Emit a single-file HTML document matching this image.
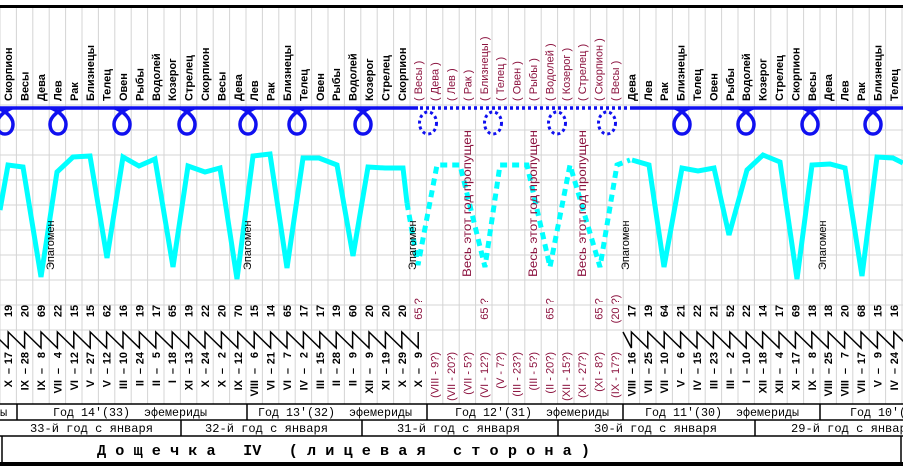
<!DOCTYPE html>
<html><head><meta charset="utf-8"><style>
html,body{margin:0;padding:0;background:#fff;width:903px;height:470px;overflow:hidden}
svg{display:block}
.lb{font:bold 11px "Liberation Sans",sans-serif;fill:#000}
.lr{font:11px "Liberation Sans",sans-serif;fill:#8c1440}
.nb{font:bold 11px "Liberation Sans",sans-serif;fill:#000}
.nr{font:11px "Liberation Sans",sans-serif;fill:#8c1440}
.ep{font:11px "Liberation Sans",sans-serif;fill:#000}
.vs{font:12px "Liberation Sans",sans-serif;fill:#8c1440}
.mo{font:12px "Liberation Mono",monospace;fill:#000;white-space:pre}
.mb{font:bold 15px "Liberation Mono",monospace;fill:#000;white-space:pre}
</style></head><body>
<svg id="s" width="903" height="470" xmlns="http://www.w3.org/2000/svg"></svg>
<script>
const s=document.getElementById('s');let h='';
const c=i=>8.2+16.4*i;
for(let i=0;i<=55;i++){const x=16.4*i;h+=`<line x1="${x}" y1="8" x2="${x}" y2="404" stroke="#d4d4d4" stroke-width="1"/>`;}
for(let y=105;y<=330;y+=25){h+=`<line x1="0" y1="${y}" x2="903" y2="${y}" stroke="#d4d4d4" stroke-width="1"/>`;}
h+=`<rect x="0" y="5" width="903" height="3" fill="#000"/>`;
const L=["Скорпион","Весы","Дева","Лев","Рак","Близнецы","Телец","Овен","Рыбы","Водолей","Козерог","Стрелец","Скорпион","Весы","Дева","Лев","Рак","Близнецы","Телец","Овен","Рыбы","Водолей","Козерог","Стрелец","Скорпион","( Весы )","( Дева )","( Лев )","( Рак )","( Близнецы )","( Телец )","( Овен )","( Рыбы )","( Водолей )","( Козерог )","( Стрелец )","( Скорпион )","( Весы )","Дева","Лев","Рак","Близнецы","Телец","Овен","Рыбы","Водолей","Козерог","Стрелец","Скорпион","Весы","Дева","Лев","Рак","Близнецы","Телец"];
L.forEach((t,i)=>{const r=i>=25&&i<=37;h+=`<text class="${r?'lr':'lb'}" transform="translate(${c(i)+4},101) rotate(-90)">${t}</text>`;});
h+=`<line x1="0" y1="108" x2="418" y2="108" stroke="#1010f0" stroke-width="3.5"/>`;
h+=`<line x1="420" y1="108" x2="628" y2="108" stroke="#1010f0" stroke-width="3.5" stroke-dasharray="3,3"/>`;
h+=`<line x1="630" y1="108" x2="903" y2="108" stroke="#1010f0" stroke-width="3.5"/>`;
[5,58,122,187,248,297,363,682,746,810,873].forEach(x=>{h+=`<path d="M ${x-7},108 C ${x-2},110 ${x+8},116 ${x+8},124 C ${x+8},131 ${x+4},134 ${x},134 C ${x-4},134 ${x-8},131 ${x-8},124 C ${x-8},116 ${x+2},110 ${x+7},108" fill="none" stroke="#1010f0" stroke-width="3.5"/>`;});
[428,493,557,607].forEach(x=>{h+=`<ellipse cx="${x}" cy="123" rx="8.5" ry="11" fill="none" stroke="#1010f0" stroke-width="3" stroke-dasharray="3,3"/>`;});
const P1="0,210 8,165 23,167 41,277 57,172 73,157 90,156 107,258 123,157 139,166 155,159 173,267 188,166 205,172 220,168 237,279 253,156 270,154 287,268 303,158 319,158 337,165 353,256 368,167 385,168 403,168 407,203";
h+=`<polyline points="${P1}" fill="none" stroke="#00ffff" stroke-width="5"/>`;
const P2="407,203 418,265 437,165 460,165 485,267 500,165 527,165 550,267 570,165 600,267 617,165 630,160";
h+=`<polyline points="${P2}" fill="none" stroke="#00ffff" stroke-width="5" stroke-dasharray="7,5"/>`;
const P3="632,160 649,165 664,267 682,168 698,171 714,168 729,235 747,170 763,155 780,162 797,279 812,165 830,164 845,168 862,276 877,157 893,158 903,163";
h+=`<polyline points="${P3}" fill="none" stroke="#00ffff" stroke-width="5"/>`;
[50,247,412,625,822].forEach(x=>{h+=`<text class="ep" transform="translate(${x+4},270) rotate(-90)">Эпагомен</text>`;});
[467,533,582].forEach(x=>{h+=`<text class="vs" transform="translate(${x+4},277) rotate(-90)" textLength="147" lengthAdjust="spacingAndGlyphs">Весь этот год пропущен</text>`;});
const N={0:19,1:20,2:69,3:22,4:15,5:15,6:62,7:16,8:19,9:17,10:65,11:19,12:22,13:20,14:70,15:15,16:14,17:65,18:17,19:17,20:19,21:60,22:20,23:20,24:20,38:17,39:19,40:64,41:21,42:22,43:21,44:52,45:22,46:14,47:17,48:69,49:18,50:18,51:20,52:68,53:15,54:16};
for(const k in N){h+=`<text class="nb" text-anchor="middle" transform="translate(${c(+k)+4},311) rotate(-90)">${N[k]}</text>`;}
const NR={25:"65 ?",29:"65 ?",33:"65 ?",36:"65 ?",37:"(20 ?)"};
for(const k in NR){h+=`<text class="nr" text-anchor="middle" transform="translate(${c(+k)+4},309) rotate(-90)">${NR[k]}</text>`;}
let z=`M ${c(-1)},332 `;for(let i=0;i<=25;i++){z+=`L ${c(i)},348 L ${c(i)},332 `;}
h+=`<path d="${z}" fill="none" stroke="#000" stroke-width="1.5"/>`;
z=`M 623,332 `;for(let i=38;i<=55;i++){z+=`L ${c(i)},348 L ${c(i)},332 `;}
h+=`<path d="${z}" fill="none" stroke="#000" stroke-width="1.5"/>`;
const D={0:["X","17"],1:["IX","28"],2:["IX","8"],3:["VII","4"],4:["VI","12"],5:["V","27"],6:["V","12"],7:["III","10"],8:["II","24"],9:["II","5"],10:["I","18"],11:["XI","13"],12:["X","24"],13:["X","2"],14:["IX","12"],15:["VIII","6"],16:["VI","21"],17:["VI","7"],18:["IV","2"],19:["III","15"],20:["II","28"],21:["II","9"],22:["XII","9"],23:["XI","19"],24:["X","29"],25:["X","9"],38:["VIII","16"],39:["VII","25"],40:["VII","10"],41:["V","6"],42:["IV","15"],43:["III","23"],44:["III","2"],45:["I","10"],46:["XII","18"],47:["XII","4"],48:["XI","17"],49:["IX","8"],50:["VIII","25"],51:["VIII","7"],52:["VII","17"],53:["V","9"],54:["IV","24"]};
for(const k in D){const x=c(+k)+4;h+=`<text class="nb" text-anchor="end" transform="translate(${x},380) rotate(-90)">${D[k][0]}</text><text class="nb" text-anchor="middle" transform="translate(${x},371) rotate(-90)">–</text><text class="nb" text-anchor="end" transform="translate(${x},352) rotate(-90)">${D[k][1]}</text>`;}
const DR=["(VIII - 9?)","(VII - 20?)","(VII - 5?)","(VI - 12?)","(V - 7?)","(III - 23?)","(III - 5?)","(II - 20?)","(XII - 15?)","(XI - 27?)","(XI - 8?)","(IX - 17?)"];
DR.forEach((t,j)=>{h+=`<text class="nr" text-anchor="end" transform="translate(${c(26+j)+4},352) rotate(-90)">${t}</text>`;});
h+=`<rect x="0" y="404" width="903" height="59" fill="#fff"/>`;
h+=`<line x1="0" y1="404" x2="903" y2="404" stroke="#000" stroke-width="1.5"/><line x1="0" y1="420" x2="903" y2="420" stroke="#000" stroke-width="1.5"/><line x1="0" y1="436" x2="903" y2="436" stroke="#000" stroke-width="1.5"/>`;
[17,247,427,623,820].forEach(x=>{h+=`<line x1="${x}" y1="404" x2="${x}" y2="420" stroke="#000" stroke-width="1.5"/>`;});
[181,362,558,755].forEach(x=>{h+=`<line x1="${x}" y1="420" x2="${x}" y2="436" stroke="#000" stroke-width="1.5"/>`;});
h+=`<line x1="2" y1="436" x2="2" y2="463" stroke="#000" stroke-width="1.5"/><line x1="901" y1="436" x2="901" y2="463" stroke="#000" stroke-width="1.5"/>`;
h+=`<rect x="0" y="462" width="903" height="4" fill="#000"/>`;
h+=`<text class="mo" x="0" y="416">ы</text>`;
[[53,"Год 14'(33)  эфемериды"],[258,"Год 13'(32)  эфемериды"],[455,"Год 12'(31)  эфемериды"],[645,"Год 11'(30)  эфемериды"],[850,"Год 10'(29)  эфемериды"]].forEach(([x,t])=>{h+=`<text class="mo" x="${x}" y="416" textLength="154" lengthAdjust="spacingAndGlyphs">${t}</text>`;});
[[30,"33-й год с января"],[205,"32-й год с января"],[397,"31-й год с января"],[594,"30-й год с января"],[791,"29-й год с января"]].forEach(([x,t])=>{h+=`<text class="mo" x="${x}" y="432" textLength="123" lengthAdjust="spacingAndGlyphs">${t}</text>`;});
h+=`<text class="mb" x="97" y="455" textLength="493" lengthAdjust="spacingAndGlyphs">Д о щ е ч к а   IV   ( л и ц е в а я   с т о р о н а )</text>`;
s.innerHTML=h;
</script>
</body></html>
